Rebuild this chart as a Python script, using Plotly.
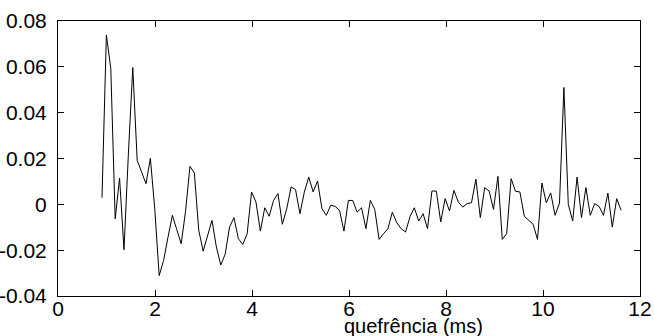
import numpy as np
import plotly.graph_objects as go

# sample indices (fs = 11025 Hz) -> quefrency in ms
sample_idx = list(range(10, 129))
fs_khz = 11.025
cepstrum = [
    0.0029, 0.0739, 0.0593, -0.0063, 0.0114, -0.0198, 0.0220, 0.0597, 0.0192, 0.0142,
    0.0090, 0.0201, -0.0020, -0.0311, -0.0245, -0.0144, -0.0048, -0.0110, -0.0172, -0.0030,
    0.0166, 0.0137, -0.0114, -0.0204, -0.0136, -0.0070, -0.0186, -0.0265, -0.0218, -0.0099,
    -0.0058, -0.0150, -0.0175, -0.0128, 0.0054, 0.0010, -0.0117, -0.0015, -0.0052, 0.0017,
    0.0047, -0.0087, -0.0019, 0.0076, 0.0064, -0.0041, 0.0054, 0.0119, 0.0054, 0.0102,
    -0.0019, -0.0048, -0.0004, -0.0009, -0.0026, -0.0117, 0.0017, 0.0017, -0.0034, -0.0015,
    -0.0106, 0.0017, -0.0022, -0.0153, -0.0128, -0.0106, -0.0034, -0.0080, -0.0106, -0.0121,
    -0.0055, -0.0015, -0.0073, -0.0041, -0.0106, 0.0058, 0.0058, -0.0077, 0.0025, -0.0029,
    0.0061, 0.0010, -0.0012, 0.0003, 0.0007, 0.0110, -0.0058, 0.0073, 0.0058, -0.0022,
    0.0122, -0.0153, -0.0128, 0.0112, 0.0057, 0.0054, -0.0052, -0.0070, -0.0087, -0.0153,
    0.0093, 0.0007, 0.0050, -0.0048, 0.0006, 0.0510, 0.0000, -0.0073, 0.0119, -0.0058,
    0.0073, -0.0048, 0.0003, -0.0009, -0.0048, 0.0049, -0.0099, 0.0025, -0.0026,
]
x_ticks = [0, 2, 4, 6, 8, 10, 12]
y_ticks = [-0.04, -0.02, 0, 0.02, 0.04, 0.06, 0.08]
y_tick_text = ["-0.04", "-0.02", "0", "0.02", "0.04", "0.06", "0.08"]
x_title = "quefrência (ms)"

quefrency = [n / fs_khz for n in sample_idx]

fig = go.Figure()
fig.add_trace(go.Scatter(x=quefrency, y=cepstrum, mode="lines",
                         line=dict(color="black", width=1), showlegend=False))

font = dict(family="Liberation Sans, Arial, sans-serif", size=21, color="black")
axis_common = dict(showgrid=False, zeroline=False, showline=True, linecolor="black",
                   linewidth=1, mirror="ticks", ticks="inside", ticklen=6,
                   tickcolor="black", tickwidth=1, tickfont=font, automargin=False)

fig.update_layout(
    width=654, height=336,
    margin=dict(l=58, r=14, t=21, b=40),
    paper_bgcolor="white", plot_bgcolor="white",
    xaxis=dict(range=[0, 12], tickvals=x_ticks, ticktext=[str(v) for v in x_ticks],
               ticklabelstandoff=-6, **axis_common),
    yaxis=dict(range=[-0.04, 0.08], tickvals=y_ticks, ticktext=y_tick_text,
               ticklabelstandoff=6, **axis_common),
    annotations=[dict(text=x_title, xref="paper", yref="paper", x=0.61, y=-0.109,
                      xanchor="center", yanchor="middle", showarrow=False,
                      font=dict(family="Liberation Sans, Arial, sans-serif", size=20,
                                color="black"))],
)

fig.write_html("out.html", config={"displayModeBar": False},
               post_script="document.body.style.margin='0';document.body.style.padding='0';")
